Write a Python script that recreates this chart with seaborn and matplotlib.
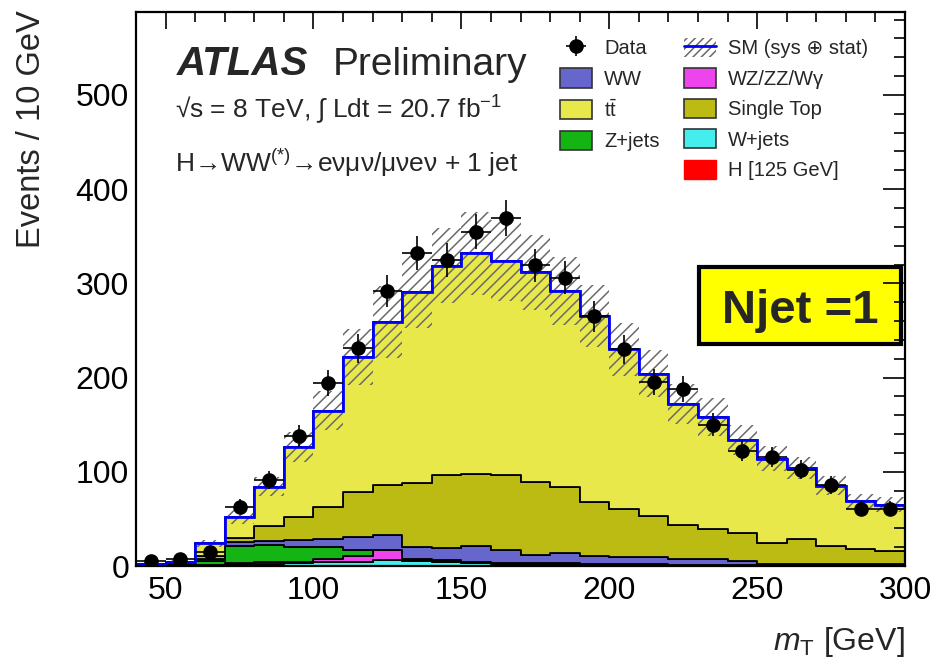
import numpy as np
import pandas as pd
import matplotlib
matplotlib.use("Agg")
import matplotlib.pyplot as plt
import seaborn as sns
from matplotlib.patches import Patch, Rectangle
from matplotlib.lines import Line2D
from matplotlib.ticker import MultipleLocator

# ---------------- data ----------------
bin_edges = list(range(40, 301, 10))
bin_centers = [45, 55, 65, 75, 85, 95, 105, 115, 125, 135, 145, 155, 165,
               175, 185, 195, 205, 215, 225, 235, 245, 255, 265, 275, 285, 295]

data_counts = [5, 7, 15, 63, 91, 138, 194, 231, 292, 332, 325, 355, 369,
               319, 306, 265, 230, 195, 188, 150, 122, 116, 102, 86, 61, 61]

wjets = [0.5, 0.5, 1.0, 2.0, 2.5, 3.0, 4.0, 4.5, 6.0, 5.0, 4.0, 3.0, 2.0,
         2.0, 2.0, 1.5, 1.2, 1.2, 1.0, 1.0, 0.6, 0.3, 0.3, 0.3, 0.2, 0.2]
wzzz = [0.1, 0.2, 0.5, 1.0, 2.0, 1.6, 3.0, 6.0, 11.0, 1.0, 1.0, 1.0, 1.0,
        0.5, 0.5, 0.5, 0.4, 0.4, 0.3, 0.3, 0.2, 0.1, 0.1, 0.1, 0.1, 0.1]
zjets = [1.0, 1.5, 4.0, 18.0, 17.5, 16.0, 13.0, 6.5, 0.5, 1.0, 1.4, 0.6, 0.5,
         0.5, 0.5, 0.5, 0.4, 0.4, 0.2, 0.2, 0.2, 0.1, 0.1, 0.1, 0.2, 0.2]
ww = [0.3, 0.5, 2.0, 5.0, 5.0, 7.5, 9.0, 14.0, 15.5, 13.0, 12.3, 17.0, 13.5,
      8.7, 11.0, 8.5, 7.5, 7.5, 5.7, 5.5, 4.0, 2.0, 2.0, 2.0, 1.5, 1.5]
single_top = [0.2, 0.5, 3.0, 4.0, 15.0, 24.0, 34.0, 48.0, 53.0, 68.0, 78.0, 76.5, 79.5,
              77.0, 70.0, 57.0, 50.5, 43.5, 35.8, 32.0, 29.6, 22.2, 26.5, 18.5, 15.7, 14.0]
ttbar = [0.5, 1.5, 13.5, 22.0, 42.0, 74.0, 102.0, 143.0, 173.0, 203.0, 222.0, 234.0, 227.5,
         223.0, 208.0, 197.0, 170.0, 151.0, 129.0, 119.0, 99.4, 89.3, 75.0, 64.0, 51.0, 49.0]
sm_unc = [1, 1.5, 4, 7, 10, 16, 21, 30, 38, 38, 40, 44, 43,
          40, 36, 33, 28, 25, 21, 20, 16, 13, 12, 10, 8, 8]

# processes, listed from top of the stack to bottom
proc_names = ["ttbar", "Single Top", "WW", "Z+jets", "WZ/ZZ/Wγ", "W+jets"]
proc_values = [ttbar, single_top, ww, zjets, wzzz, wjets]
proc_colors = ["#E8E84A", "#BBBB14", "#6666CC", "#14B414", "#EE44EE", "#44EEEE"]

# ---------------- style ----------------
sns.set_theme(style="white")
plt.rcParams["font.family"] = ["Liberation Sans", "DejaVu Sans"]
plt.rcParams["mathtext.fontset"] = "custom"
plt.rcParams["mathtext.rm"] = "Liberation Sans"
plt.rcParams["mathtext.it"] = "Liberation Sans:italic"
plt.rcParams["mathtext.bf"] = "Liberation Sans:bold"
plt.rcParams["hatch.linewidth"] = 1.1

fig = plt.figure(figsize=(9.33, 6.58), dpi=100)
ax = fig.add_axes([136 / 933, 1 - 566 / 658, (905 - 136) / 933, (566 - 12) / 658])

rows = []
for name, vals in zip(proc_names, proc_values):
    for c, v in zip(bin_centers, vals):
        rows.append({"mT": c, "w": v, "process": name})
df = pd.DataFrame(rows)

sns.histplot(data=df, x="mT", weights="w", hue="process", hue_order=proc_names,
             multiple="stack", bins=bin_edges, element="step",
             palette=dict(zip(proc_names, proc_colors)), alpha=1,
             edgecolor="black", linewidth=1.3, legend=False, ax=ax)

edges = np.array(bin_edges, dtype=float)
sm_total = np.sum([np.array(v) for v in proc_values], axis=0)
unc = np.array(sm_unc, dtype=float)

ax.stairs(sm_total + unc, edges, baseline=sm_total - unc, fill=True,
          facecolor="none", edgecolor="#6a6a6a", hatch="///", linewidth=0, zorder=3)
ax.stairs(sm_total, edges, baseline=None, color="blue", linewidth=2, zorder=4)

dvals = np.array(data_counts, dtype=float)
eb = ax.errorbar(bin_centers, dvals, yerr=np.sqrt(dvals), xerr=5, fmt="o",
                 color="black", markersize=9.5, elinewidth=1.2, capsize=0, zorder=5)

ax.set_xlim(40, 300)
ax.set_ylim(0, 588)
ax.set_xlabel("")
ax.set_ylabel("")
ax.xaxis.set_major_locator(MultipleLocator(50))
ax.xaxis.set_minor_locator(MultipleLocator(10))
ax.yaxis.set_major_locator(MultipleLocator(100))
ax.yaxis.set_minor_locator(MultipleLocator(20))
ax.tick_params(axis="both", which="both", direction="in", top=True, right=True,
               width=1.2, colors="black", labelsize=23)
ax.tick_params(axis="y", which="major", length=16, pad=5)
ax.tick_params(axis="y", which="minor", length=8)
ax.tick_params(axis="x", which="major", length=12, pad=7)
ax.tick_params(axis="x", which="minor", length=7)
for s in ax.spines.values():
    s.set_linewidth(1.6)
    s.set_color("black")
    s.set_zorder(10)
ax.xaxis.set_zorder(10)
ax.yaxis.set_zorder(10)

# axis titles
fig.text(32 / 933, 1 - 10 / 658, "Events / 10 GeV", rotation=90, ha="center", va="top",
         fontsize=23.5)
fig.text(905 / 933, 1 - 650 / 658, r"$m_{\mathrm{T}}$ [GeV]", ha="right", va="baseline",
         fontsize=23)

# ATLAS labels
fig.text(177 / 933, 1 - 75 / 658, "ATLAS", fontsize=29, fontweight="bold", style="italic",
         ha="left", va="baseline")
fig.text(333 / 933, 1 - 75 / 658, "Preliminary", fontsize=28, ha="left", va="baseline")
fig.text(175 / 933, 1 - 118 / 658, r"√s = 8 TeV, ∫ Ldt = 20.7 fb$^{-1}$", fontsize=19,
         ha="left", va="baseline")
fig.text(175 / 933, 1 - 172 / 658, r"H→WW$^{(*)}$→eνμν/μνeν + 1 jet", fontsize=19,
         ha="left", va="baseline")

# Njet box
ax.add_patch(Rectangle(((699 - 136) / 769, (566 - 344) / 554), 202 / 769, 77 / 554,
                       transform=ax.transAxes, facecolor="#FFFF00", edgecolor="black",
                       linewidth=3, zorder=8))
ax.text((800 - 136) / 769, (566 - 323) / 554, "Njet =1", transform=ax.transAxes,
        ha="center", va="baseline", fontsize=34, fontweight="bold", zorder=9)

# legend
def box(c, ec="#333333"):
    return Patch(facecolor=c, edgecolor=ec, linewidth=1.2)

col = dict(zip(proc_names, proc_colors))
sm_handle = (Patch(facecolor="white", edgecolor="#6a6a6a", hatch="////", linewidth=0),
             Line2D([], [], color="blue", linewidth=2))
blank = Patch(visible=False)
handles = [eb, box(col["WW"]), box(col["ttbar"]), box(col["Z+jets"]), blank,
           sm_handle, box(col["WZ/ZZ/Wγ"]), box(col["Single Top"]), box(col["W+jets"]),
           Patch(facecolor="red", edgecolor="red")]
labels = ["Data", "WW", r"t$\mathrm{\bar{t}}$", "Z+jets", "",
          "SM (sys ⊕ stat)", "WZ/ZZ/Wγ", "Single Top", "W+jets", "H [125 GeV]"]
ax.legend(handles, labels, ncol=2, loc="upper left",
          bbox_to_anchor=((560 - 136) / 769, (566 - 38) / 554),
          frameon=False, fontsize=14.5, handlelength=1.6, handleheight=1.08,
          handletextpad=0.6, labelspacing=0.5, columnspacing=1.2, borderpad=0,
          borderaxespad=0)

fig.savefig("out.png", dpi=100)
